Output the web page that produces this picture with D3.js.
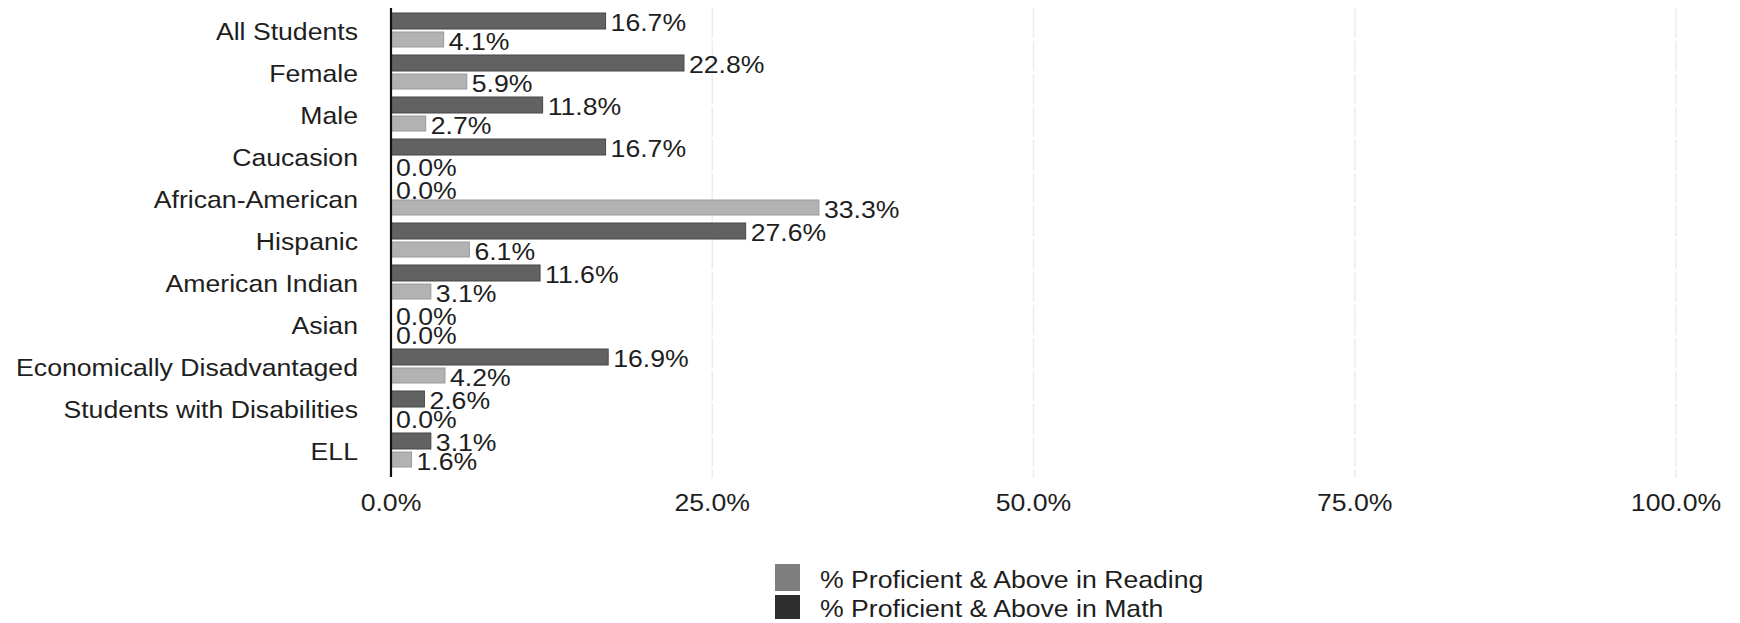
<!DOCTYPE html>
<html>
<head>
<meta charset="utf-8">
<script src="https://cdn.jsdelivr.net/npm/d3@7"></script>
<style>
  html, body { margin: 0; padding: 0; background: #fff; }
  svg { display: block; font-family: "Liberation Sans", Arial, sans-serif; }
</style>
</head>
<body>
<svg id="chart" width="1740" height="623"></svg>
<script>
// Student groups and proficiency rates (percent)
const categories = [
  "All Students", "Female", "Male", "Caucasion", "African-American",
  "Hispanic", "American Indian", "Asian", "Economically Disadvantaged",
  "Students with Disabilities", "ELL"
];
const readingValues = [16.7, 22.8, 11.8, 16.7, 0.0, 27.6, 11.6, 0.0, 16.9, 2.6, 3.1];
const mathValues    = [4.1, 5.9, 2.7, 0.0, 33.3, 6.1, 3.1, 0.0, 4.2, 0.0, 1.6];
const xTicks = [0, 25, 50, 75, 100];
const seriesNames = ["% Proficient & Above in Reading", "% Proficient & Above in Math"];

const svg = d3.select("#chart");
const FONT = 24, STRETCH = 1.11, INK = "#1e1e1e";

const x = d3.scaleLinear().domain([0, 100]).range([391, 1676]);
const y = d3.scaleBand().domain(categories).range([9, 471]).padding(0);

// Horizontally stretched text helper
function label(g, px, py, txt, anchor) {
  return g.append("text")
    .attr("transform", `translate(${px},${py}) scale(${STRETCH},1)`)
    .attr("text-anchor", anchor || "start")
    .attr("dominant-baseline", "central")
    .attr("font-size", FONT)
    .attr("fill", INK)
    .text(txt);
}

// Faint vertical gridlines
svg.append("g").selectAll("line")
  .data(xTicks.filter(d => d > 0))
  .join("line")
  .attr("x1", d => x(d)).attr("x2", d => x(d))
  .attr("y1", 8).attr("y2", 478)
  .attr("stroke", "#ececec")
  .attr("stroke-width", 1.5)
  .attr("stroke-dasharray", "30,3");

// Tick labels along the bottom
const xAxis = d3.axisBottom(x).tickValues(xTicks).tickSize(0).tickFormat(d => d.toFixed(1) + "%");
const xg = svg.append("g").attr("transform", "translate(0,490)").call(xAxis);
xg.select(".domain").remove();
xg.selectAll(".tick text").each(function(d) {
  const t = d3.select(this);
  const txt = t.text();
  t.remove();
  label(xg, x(d), 12, txt, "middle");
});

// Category labels
const yg = svg.append("g");
categories.forEach(c => label(yg, 358, y(c) + y.bandwidth() / 2 + 1, c, "end"));

// Bars
const bars = svg.append("g");
bars.selectAll("rect.reading")
  .data(categories)
  .join("rect")
  .attr("class", "reading")
  .attr("x", x(0))
  .attr("y", d => y(d) + 4)
  .attr("width", (d, i) => x(readingValues[i]) - x(0))
  .attr("height", 16)
  .attr("fill", "#626262")
  .attr("stroke", "#474747")
  .attr("stroke-width", 1);

bars.selectAll("rect.math")
  .data(categories)
  .join("rect")
  .attr("class", "math")
  .attr("x", x(0))
  .attr("y", d => y(d) + 23)
  .attr("width", (d, i) => x(mathValues[i]) - x(0))
  .attr("height", 15)
  .attr("fill", "#b2b2b2")
  .attr("stroke", "#9a9a9a")
  .attr("stroke-width", 1);

// Value labels
const vl = svg.append("g");
categories.forEach((c, i) => {
  label(vl, x(readingValues[i]) + 5, y(c) + 13, readingValues[i].toFixed(1) + "%");
  label(vl, x(mathValues[i]) + 5, y(c) + 32, mathValues[i].toFixed(1) + "%");
});

// Category axis line
svg.append("line")
  .attr("x1", x(0)).attr("x2", x(0))
  .attr("y1", 8).attr("y2", 477)
  .attr("stroke", "#111").attr("stroke-width", 2.2);

// Legend
const lg = svg.append("g");
lg.append("rect").attr("x", 775).attr("y", 564).attr("width", 25).attr("height", 27).attr("fill", "#7e7e7e");
lg.append("rect").attr("x", 775).attr("y", 595).attr("width", 25).attr("height", 24).attr("fill", "#2e2e2e");
label(lg, 820, 579, seriesNames[0]);
label(lg, 820, 608, seriesNames[1]);
</script>
</body>
</html>
